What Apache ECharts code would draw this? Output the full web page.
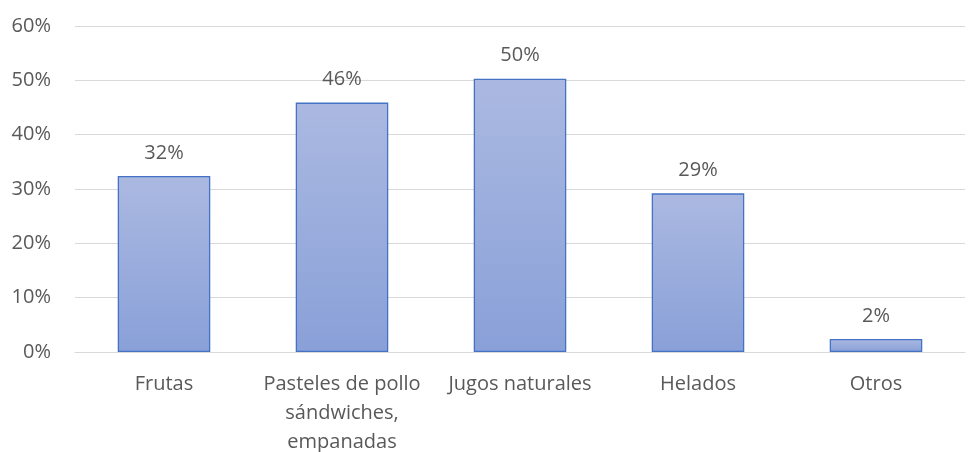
<!DOCTYPE html>
<html><head><meta charset="utf-8">
<script src="https://cdn.jsdelivr.net/npm/echarts@6/dist/echarts.min.js"></script>
<style>html,body{margin:0;padding:0;background:#fff}#c{width:971px;height:452px}</style>
</head><body><div id="c"></div>
<script>
const categories = ["Frutas", "Pasteles de pollo\nsándwiches,\nempanadas", "Jugos naturales", "Helados", "Otros"];
const values = [0.324, 0.459, 0.503, 0.292, 0.024];
const yTicks = [0, 0.1, 0.2, 0.3, 0.4, 0.5, 0.6];

const font = "'Open Sans', 'Noto Sans', sans-serif";
const chart = echarts.init(document.getElementById('c'), null, {renderer: 'canvas'});
chart.setOption({
  animation: false,
  grid: {left: 75, right: 6, top: 26, bottom: 100, containLabel: false, outerBoundsMode: 'none'},
  xAxis: {
    type: 'category', data: categories,
    axisLine: {show: true, lineStyle: {color: '#d9d9d9', width: 1}},
    axisTick: {show: false},
    axisLabel: {color: '#595959', fontSize: 20, fontFamily: font, margin: 18, lineHeight: 29, interval: 0}
  },
  yAxis: {
    type: 'value', min: yTicks[0], max: yTicks[yTicks.length - 1], interval: 0.1,
    axisLine: {show: false}, axisTick: {show: false},
    splitLine: {lineStyle: {color: '#d9d9d9', width: 1}},
    axisLabel: {color: '#595959', fontSize: 20, fontFamily: font, margin: 24,
      formatter: v => Math.round(v * 100) + '%'}
  },
  series: [{
    type: 'bar', data: values, barWidth: '52%',
    itemStyle: {
      color: new echarts.graphic.LinearGradient(0, 0, 0, 1, [
        {offset: 0, color: '#abb9e1'}, {offset: 1, color: '#89a0d8'}]),
      borderColor: '#4472c4', borderWidth: 1.3
    },
    label: {show: true, position: 'top', distance: 13, color: '#595959', fontSize: 20, fontFamily: font,
      formatter: p => Math.round(p.value * 100) + '%'}
  }]
});
</script></body></html>
